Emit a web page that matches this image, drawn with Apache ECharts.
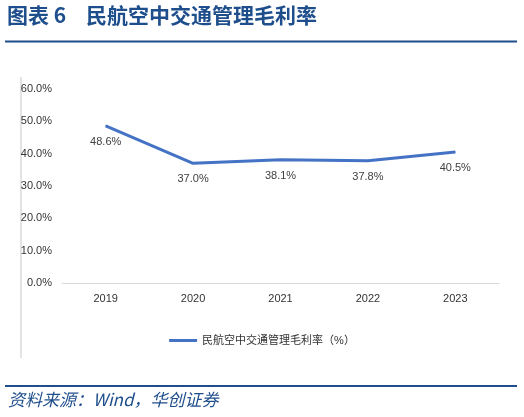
<!DOCTYPE html>
<html>
<head>
<meta charset="utf-8">
<script src="https://cdn.jsdelivr.net/npm/echarts@6/dist/echarts.min.js"></script>
<style>
  html, body { margin: 0; padding: 0; background: #fff; }
  #main { width: 524px; height: 417px; }
</style>
</head>
<body>
<div id="main"></div>
<script>
// 数据
var years = ['2019', '2020', '2021', '2022', '2023'];
var margin = [48.6, 37.0, 38.1, 37.8, 40.5];
var seriesName = '民航空中交通管理毛利率（%）';

var myChart = echarts.init(document.getElementById('main'));
var navy = '#1f4e8c';

option = {
	backgroundColor: '#fff',
	animation: false,
	textStyle: { fontFamily: 'Arial, "Liberation Sans", "Noto Sans CJK SC"' },
	graphic: [
		{ type: 'text', left: 7, top: 5,
		  style: { text: '图表 6', fill: navy,
		           font: 'bold 21px "Noto Sans CJK SC"' } },
		{ type: 'text', left: 86, top: 5,
		  style: { text: '民航空中交通管理毛利率', fill: navy,
		           font: 'bold 21px "Noto Sans CJK SC"' } },
		{ type: 'rect', shape: { x: 5, y: 40.5, width: 512, height: 2 }, style: { fill: navy } },
		{ type: 'line', shape: { x1: 21, y1: 77, x2: 21, y2: 358 },
		  style: { stroke: '#c8c8c8', lineWidth: 1 } },
		{ type: 'rect', shape: { x: 5, y: 385, width: 512, height: 2 }, style: { fill: navy } },
		{ type: 'text', left: 8, top: 391,
		  style: { text: '资料来源：Wind，华创证券', fill: navy,
		           font: 'italic 17px "Noto Sans CJK SC"' } }
	],
	legend: {
		bottom: 66,
		left: 'center',
		itemWidth: 28,
		itemHeight: 3,
		icon: 'rect',
		itemGap: 4,
		textStyle: { color: '#333', fontSize: 11 },
		data: [seriesName]
	},
	grid: { left: 62, right: 25, top: 89, bottom: 134 },
	xAxis: {
		type: 'category',
		boundaryGap: true,
		data: years,
		axisLine: { lineStyle: { color: '#d9d9d9' } },
		axisTick: { show: false },
		axisLabel: { color: '#333', fontSize: 11, margin: 10 }
	},
	yAxis: {
		type: 'value',
		min: 0,
		max: 60,
		interval: 10,
		splitLine: { show: false },
		axisLine: { show: false },
		axisTick: { show: false },
		axisLabel: { color: '#333', fontSize: 11, margin: 10,
			formatter: function (v) { return v.toFixed(1) + '%'; } }
	},
	series: [{
		name: seriesName,
		type: 'line',
		data: margin,
		symbol: 'circle',
		symbolSize: 1,
		lineStyle: { color: '#4472c4', width: 3 },
		itemStyle: { color: '#4472c4' },
		label: {
			show: true,
			position: 'bottom',
			distance: 10,
			color: '#404040',
			fontSize: 11,
			formatter: function (p) { return p.value.toFixed(1) + '%'; }
		}
	}]
};
myChart.setOption(option);
</script>
</body>
</html>
